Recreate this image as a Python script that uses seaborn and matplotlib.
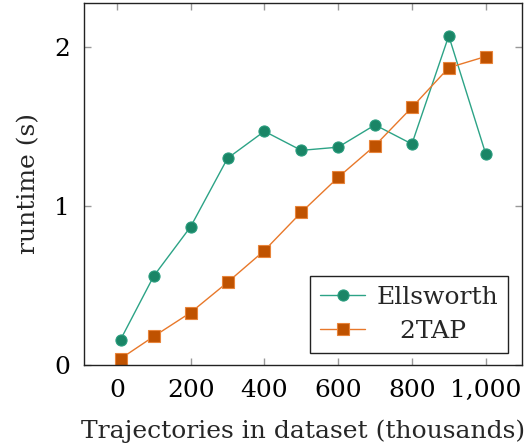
import matplotlib
matplotlib.use("Agg")
import matplotlib.pyplot as plt
import seaborn as sns
import pandas as pd
from matplotlib.ticker import FuncFormatter

x_vals = [10, 100, 200, 300, 400, 500, 600, 700, 800, 900, 1000]
ellsworth = [0.16, 0.56, 0.87, 1.30, 1.47, 1.35, 1.37, 1.51, 1.39, 2.07, 1.33]
twotap = [0.04, 0.18, 0.33, 0.52, 0.72, 0.96, 1.18, 1.38, 1.62, 1.87, 1.94]
series_names = ["Ellsworth", "2TAP"]
x_ticks = [0, 200, 400, 600, 800, 1000]
y_ticks = [0, 1, 2]

sns.set_theme(style="white")
plt.rcParams['font.family'] = ['DejaVu Serif']

fig = plt.figure(figsize=(5.29, 4.47), dpi=100)
ax = fig.add_axes([0.159, 0.1834, 0.828, 0.810])

df_e = pd.DataFrame({"x": x_vals, "y": ellsworth})
df_t = pd.DataFrame({"x": x_vals, "y": twotap})

sns.lineplot(data=df_e, x="x", y="y", ax=ax, color="#2ca386", lw=1.0,
             marker="o", markersize=8, markerfacecolor="#1a8566",
             markeredgecolor="#2a9d7e", markeredgewidth=0.8, label=series_names[0])
sns.lineplot(data=df_t, x="x", y="y", ax=ax, color="#e8782a", lw=1.0,
             marker="s", markersize=8, markerfacecolor="#bf5200",
             markeredgecolor="#e8843a", markeredgewidth=0.8, label="   " + series_names[1])

ax.set_xlim(-89, 1099)
ax.set_ylim(0, 2.277)
ax.set_xticks(x_ticks)
ax.set_yticks(y_ticks)
ax.xaxis.set_major_formatter(FuncFormatter(lambda v, p: f"{int(v):,}"))
ax.tick_params(direction="in", length=5, width=1, color="#999999",
               top=True, right=True, bottom=True, left=True,
               labelsize=18, labelcolor="black", pad=10)
for s in ax.spines.values():
    s.set_color("#222222")
    s.set_linewidth(1.0)

ax.set_xlabel("Trajectories in dataset (thousands)", fontsize=18, labelpad=13)
ax.set_ylabel("runtime (s)", fontsize=18, labelpad=10)

leg = ax.legend(loc="lower right", fontsize=18, frameon=True, fancybox=False,
                edgecolor="#222222", framealpha=1, handlelength=1.8,
                borderpad=0.4, labelspacing=0.45, handletextpad=0.45,
                borderaxespad=0, bbox_to_anchor=(0.968, 0.033))
leg.get_frame().set_linewidth(1.0)

fig.savefig("out.png", dpi=100)
